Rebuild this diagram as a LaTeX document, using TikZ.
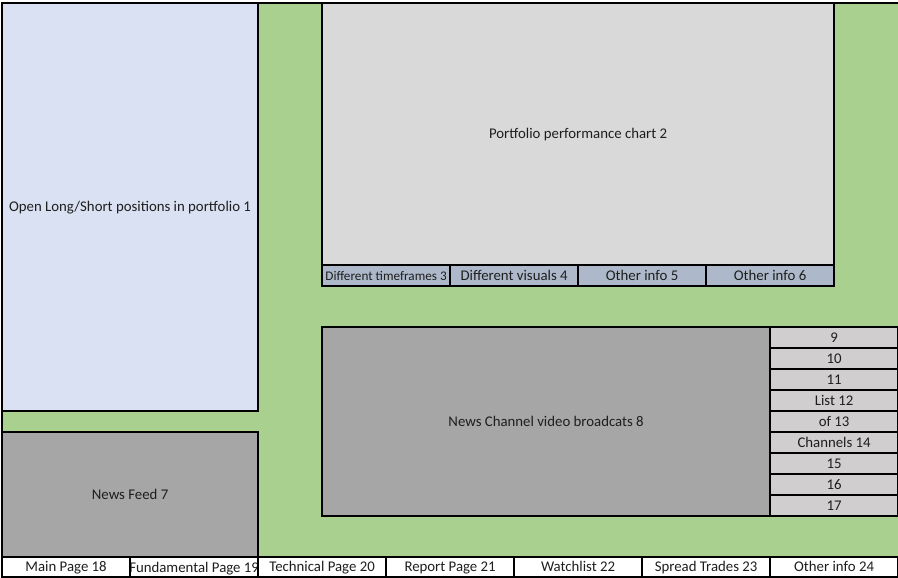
\documentclass[tikz,border=0pt]{standalone}
\usepackage{fontspec}
\setmainfont{Carlito}
\definecolor{greenbg}{HTML}{A9D08E}
\definecolor{bluebox}{HTML}{DAE1F3}
\definecolor{chartgray}{HTML}{D9D9D9}
\definecolor{tabblue}{HTML}{ADB9CA}
\definecolor{darkgray}{HTML}{A6A6A6}
\definecolor{listgray}{HTML}{D0CECE}
\definecolor{textc}{HTML}{1E1E1E}
\begin{document}
\begin{tikzpicture}[x=1pt,y=-1pt,
  font=\fontsize{14.8}{17}\selectfont,
  cell/.style={draw=black, line width=2.2pt, anchor=north west, inner sep=0pt, text=textc,
    text height=11pt, text depth=1.5pt},
  tabcell/.style={cell, fill=tabblue, minimum width=128pt, minimum height=21pt},
  listcell/.style={cell, fill=listgray, minimum width=128pt, minimum height=21pt},
  barcell/.style={cell, fill=white, minimum width=128pt, minimum height=20pt},
]
\useasboundingbox (0,0) rectangle (898,578);
\fill[white] (0,0) rectangle (898,578);
% green background
\node[cell, fill=greenbg, minimum width=904pt, minimum height=554pt] (bg) at (1,2) {};
% left panel
\node[cell, fill=bluebox, minimum width=256pt, minimum height=408pt] (pos) at (1,2) {Open Long/Short positions in portfolio 1};
% news feed
\node[cell, fill=darkgray, minimum width=256pt, minimum height=125pt] (feed) at (1,431) {News Feed 7};
% chart
\node[cell, fill=chartgray, minimum width=512pt, minimum height=262pt] (chart) at (321,2) {Portfolio performance chart 2};
% tabs
\node[tabcell] (t3) at (321,264) {\fontsize{13.2}{15}\selectfont Different timeframes 3};
\node[tabcell] (t4) at (449,264) {Different visuals 4};
\node[tabcell] (t5) at (577,264) {Other info 5};
\node[tabcell] (t6) at (705,264) {Other info 6};
% news channel
\node[cell, fill=darkgray, minimum width=448pt, minimum height=189pt] (news) at (321,326) {News Channel video broadcats 8};
% list
\node[listcell] (l9) at (769,326) {9};
\node[listcell] (l10) at (769,347) {10};
\node[listcell] (l11) at (769,368) {11};
\node[listcell] (l12) at (769,389) {List 12};
\node[listcell] (l13) at (769,410) {of 13};
\node[listcell] (l14) at (769,431) {Channels 14};
\node[listcell] (l15) at (769,452) {15};
\node[listcell] (l16) at (769,473) {16};
\node[listcell] (l17) at (769,494) {17};
% bottom bar
\node[barcell] (b18) at (1,556) {Main Page 18};
\node[barcell, path picture={\node[anchor=center, draw=none, fill=none, text=textc, inner sep=0pt, yshift=-1pt] (b19t) at (path picture bounding box.center) {Fundamental Page 19};}] (b19) at (129,556) {};
\node[barcell] (b20) at (257,556) {Technical Page 20};
\node[barcell] (b21) at (385,556) {Report Page 21};
\node[barcell] (b22) at (513,556) {Watchlist 22};
\node[barcell] (b23) at (641,556) {Spread Trades 23};
\node[barcell] (b24) at (769,556) {Other info 24};
\end{tikzpicture}
\end{document}
